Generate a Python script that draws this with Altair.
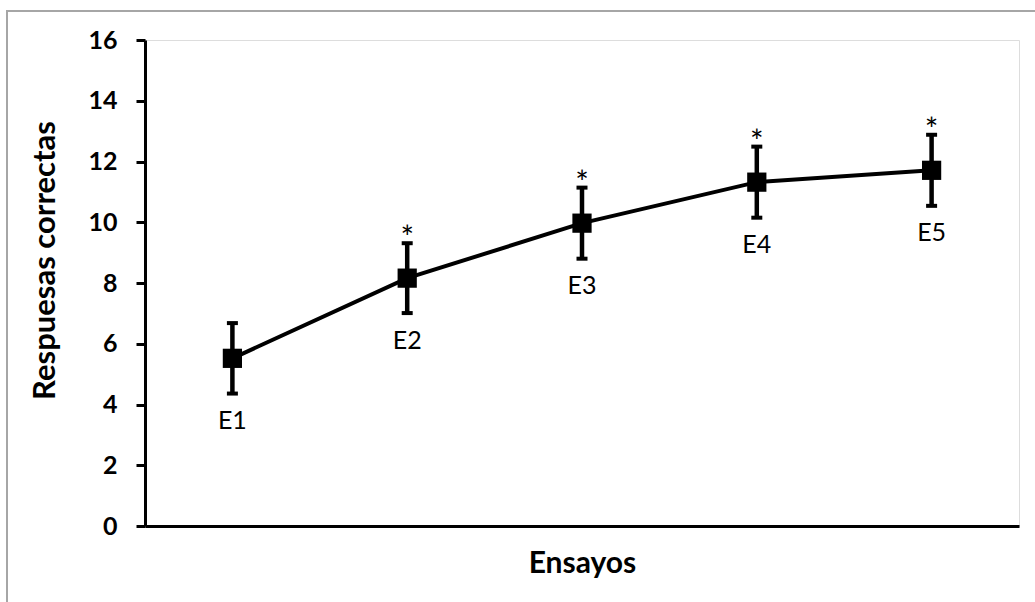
import altair as alt
import pandas as pd

# Correct responses per trial block (mean and error)
ensayos = ["E1", "E2", "E3", "E4", "E5"]
medias = [5.52, 8.16, 9.97, 11.32, 11.71]
errores = [1.16, 1.15, 1.17, 1.17, 1.17]
marcas = ["", "*", "*", "*", "*"]

df = pd.DataFrame({
    "ensayo": ensayos,
    "media": medias,
    "inf": [m - e for m, e in zip(medias, errores)],
    "sup": [m + e for m, e in zip(medias, errores)],
    "marca": marcas,
})

FONT = "Lato"
W, H = 874, 486

x = alt.X("ensayo:N", sort=ensayos,
          scale=alt.Scale(type="point", padding=0.5),
          axis=alt.Axis(title="Ensayos", labels=False, ticks=False,
                        domainColor="black", domainWidth=3,
                        titleFont=FONT, titleFontSize=30, titleFontWeight="bold",
                        titleColor="black", titleY=37, titleBaseline="middle"))
y = alt.Y("media:Q",
          scale=alt.Scale(domain=[0, 16], nice=False, zero=True),
          axis=alt.Axis(title="Respuesas correctas", values=list(range(0, 17, 2)),
                        grid=False, domainColor="black", domainWidth=3,
                        tickColor="black", tickWidth=3, tickSize=9,
                        labelFont=FONT, labelFontSize=25, labelFontWeight="bold",
                        labelColor="black", labelPadding=19,
                        titleFont=FONT, titleFontSize=31, titleFontWeight="bold",
                        titleColor="black", titleX=-100, titleY=220,
                        titleBaseline="middle"))

base = alt.Chart(df)

# Outer frame around the figure
marco = base.mark_rect(fill=None, stroke="#a6a6a6", strokeWidth=2).encode(
    x=alt.value(-138), y=alt.value(-29),
    x2=alt.value(W + 40), y2=alt.value(H + 120),
).transform_filter(alt.datum.ensayo == "E1")

linea = base.mark_line(color="black", strokeWidth=4).encode(x=x, y=y)

barras = base.mark_rule(color="black", strokeWidth=4.5).encode(
    x=x, y=alt.Y("inf:Q"), y2="sup:Q")
tope_sup = base.mark_tick(color="black", thickness=4, size=11, opacity=1).encode(
    x=x, y=alt.Y("sup:Q"))
tope_inf = base.mark_tick(color="black", thickness=4, size=11, opacity=1).encode(
    x=x, y=alt.Y("inf:Q"))

puntos = base.mark_point(shape="square", filled=True, size=370,
                         color="black", opacity=1).encode(x=x, y=y)

etiquetas = base.mark_text(font=FONT, fontSize=25, color="black",
                           baseline="middle", dy=63).encode(
    x=x, y=y, text="ensayo:N")

asteriscos = base.mark_text(font=FONT, fontSize=32, color="black",
                            baseline="middle", dy=-39).encode(
    x=x, y=y, text="marca:N")

chart = alt.layer(marco, linea, barras, tope_sup, tope_inf, puntos,
                  etiquetas, asteriscos).properties(
    width=W, height=H,
    autosize=alt.AutoSizeParams(type="none"),
    padding={"left": 145, "top": 40, "right": 16, "bottom": 76},
).configure_view(stroke=None).configure(background="white")

chart.save("out.html", embed_options={"renderer": "svg", "actions": False})
